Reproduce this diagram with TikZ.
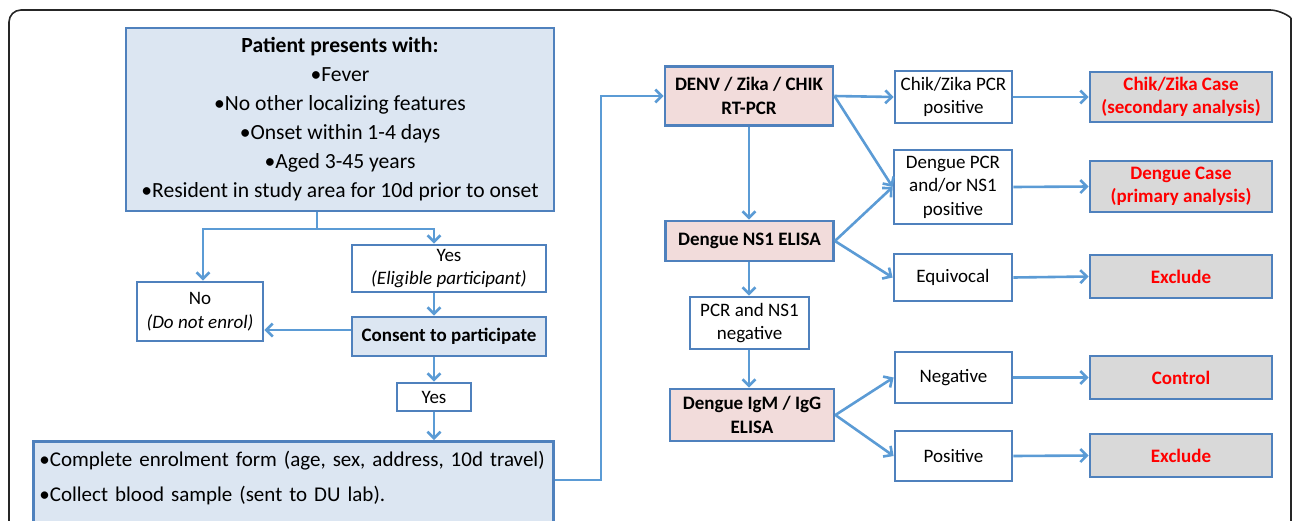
\documentclass[tikz,border=0pt]{standalone}
\usepackage{fontspec}
\setmainfont{Carlito}
\usetikzlibrary{arrows.meta}
\definecolor{bord}{HTML}{4F81BD}
\definecolor{arrc}{HTML}{5B9BD5}
\definecolor{lblue}{HTML}{DCE6F2}
\definecolor{lpink}{HTML}{F2DCDB}
\definecolor{lgray}{HTML}{D9D9D9}
\definecolor{redt}{HTML}{FF0000}
\tikzset{
  box/.style={draw=bord, line width=2.8pt, align=center, inner sep=1pt,
    font=\fontsize{19}{23.5}\selectfont},
  bluebox/.style={box, fill=lblue},
  pinkbox/.style={box, fill=lpink, font=\fontsize{19}{23.5}\selectfont\bfseries},
  graybox/.style={box, fill=lgray, text=redt, font=\fontsize{19}{23.5}\selectfont\bfseries},
  whitebox/.style={box, fill=white},
  arr/.style={draw=arrc, line width=2.6pt, -{Straight Barb[length=6.5pt,width=13pt,line width=2.6pt]}},
  ln/.style={draw=arrc, line width=2.6pt},
}
\begin{document}
\begin{tikzpicture}[x=1pt,y=-1pt]
\useasboundingbox (0,0) rectangle (1292,520);
% outer frame
\draw[line width=1.6pt, draw=black!85, rounded corners=12pt] (9,560) -- (9,10) -- (1282,10) -- (1291,18);
\draw[line width=1.6pt, draw=black!85] (1291,18) -- (1291,560);
% left part
\node[bluebox, minimum width=428pt, minimum height=183pt, font=\fontsize{21.6}{29}\selectfont] (top) at (340,119.5)
  {\textbf{Patient presents with:}\\ •Fever\\ •No other localizing features\\ •Onset within 1-4 days\\ •Aged 3-45 years\\ •Resident in study area for 10d prior to onset};
\node[whitebox, minimum width=194pt, minimum height=47pt] (yes1) at (449,268.5) {Yes\\ \textit{(Eligible participant)}};
\node[whitebox, minimum width=126pt, minimum height=59pt] (no) at (200,311.5) {No\\ \textit{(Do not enrol)}};
\node[bluebox, minimum width=194pt, minimum height=39pt, font=\fontsize{19}{23.5}\selectfont\bfseries] (consent) at (449,336.5) {Consent to participate};
\node[whitebox, minimum width=74pt, minimum height=28pt] (yes2) at (434,397) {Yes};
\node[bluebox, anchor=north west, minimum width=520pt, align=left, text width=508pt, inner xsep=5pt, inner ysep=10pt,
  text depth=60pt, font=\fontsize{21}{35}\selectfont] (enrol) at (32,440)
  {•Complete enrolment form (age, sex, address, 10d travel)\\ •Collect blood sample (sent to DU lab).};
% right part
\node[pinkbox, minimum width=168pt, minimum height=59pt] (denv) at (749,96) {DENV / Zika / CHIK\\ RT-PCR};
\node[pinkbox, minimum width=168pt, minimum height=40pt] (ns1) at (749.5,241) {Dengue NS1 ELISA};
\node[whitebox, minimum width=119pt, minimum height=52pt] (pcrneg) at (749.5,323) {PCR and NS1\\ negative};
\node[pinkbox, minimum width=164pt, minimum height=52pt] (igm) at (752,415) {Dengue IgM / IgG\\ ELISA};
\node[whitebox, minimum width=117pt, minimum height=52pt] (chikpos) at (953.5,97) {Chik/Zika PCR\\ positive};
\node[whitebox, minimum width=118pt, minimum height=74pt] (denpos) at (953,187) {Dengue PCR\\ and/or NS1\\ positive};
\node[whitebox, minimum width=118pt, minimum height=47pt] (equiv) at (953,277.5) {Equivocal};
\node[whitebox, minimum width=117pt, minimum height=51pt] (neg) at (953.5,377.5) {Negative};
\node[whitebox, minimum width=117pt, minimum height=50pt] (pos) at (953.5,456) {Positive};
\node[graybox, minimum width=182pt, minimum height=50pt] (chikcase) at (1181,97) {Chik/Zika Case\\ (secondary analysis)};
\node[graybox, minimum width=182pt, minimum height=51pt] (dencase) at (1181,186.5) {Dengue Case\\ (primary analysis)};
\node[graybox, minimum width=182pt, minimum height=43pt] (excl1) at (1181,276.5) {Exclude};
\node[graybox, minimum width=182pt, minimum height=43pt] (control) at (1181,377.5) {Control};
\node[graybox, minimum width=182pt, minimum height=43pt] (excl2) at (1181,455.5) {Exclude};
% connectors left
\coordinate (j) at (317,229);
\coordinate (vx) at (434,0);
\draw[ln] (j |- top.south) -- (j);
\draw[arr] (j) -| (no.north -| 203,0);
\draw[arr] (j) -| (vx |- yes1.north);
\draw[arr] (vx |- yes1.south) -- (vx |- consent.north);
\draw[arr] (consent.west |- 0,330) -- (no.east |- 0,330);
\draw[arr] (vx |- consent.south) -- (yes2.north);
\draw[arr] (yes2.south) -- (yes2.south |- enrol.north);
\coordinate (r) at (601,480);
\draw[arr] (r -| enrol.east) -- (r) |- (denv.west);
% connectors right
\coordinate (cx) at (749,0);
\draw[arr] (cx |- denv.south) -- (cx |- ns1.north);
\draw[arr] (cx |- ns1.south) -- (cx |- pcrneg.north);
\draw[arr] (cx |- pcrneg.south) -- (cx |- igm.north);
\draw[arr] (denv.east) -- (chikpos.west);
\draw[arr] (denv.east) -- (denpos.west);
\draw[arr] (ns1.east) -- (denpos.west);
\draw[arr] (ns1.east) -- (equiv.west);
\draw[arr] (igm.east) -- (neg.west);
\draw[arr] (igm.east) -- (pos.west);
\draw[arr] (chikpos.east) -- (chikcase.west);
\draw[arr] (denpos.east) -- (dencase.west);
\draw[arr] (equiv.east) -- (excl1.west);
\draw[arr] (neg.east) -- (control.west);
\draw[arr] (pos.east) -- (excl2.west);
\end{tikzpicture}
\end{document}
